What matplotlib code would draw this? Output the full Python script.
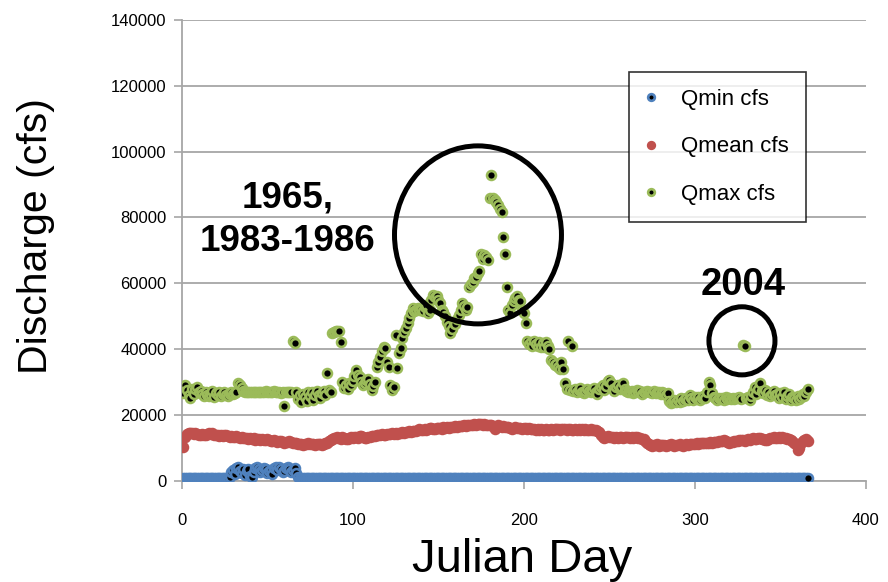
import matplotlib
matplotlib.use("Agg")
import matplotlib.pyplot as plt
from matplotlib.patches import Ellipse
import numpy as np

plt.rcParams['font.family'] = ['Liberation Sans', 'DejaVu Sans']

# Julian days 1..366
days = list(range(1, 367))

# Daily discharge values in thousands of cfs
qmin_k = (
    [0.8, 0.7, 0.8, 0.9, 0.8, 0.7, 0.8, 0.8, 0.9, 0.8,
     0.7, 0.8, 0.8, 0.9, 0.8, 0.8, 0.7, 0.8, 0.9, 0.8,
     0.8, 0.7, 0.8, 0.9, 0.8, 0.8, 0.9, 1.2, 2.5, 3.3,
     2.0, 3.8, 4.2, 3.0, 2.4, 3.6, 1.8, 2.8, 3.4, 1.5,
     1.1, 2.6, 3.9, 4.2, 3.6, 2.7, 3.1, 4.0, 3.5, 2.4,
     2.9, 3.3, 2.1, 3.7, 4.1, 3.2, 4.3, 3.6, 2.6, 3.0,
     3.9, 4.3, 3.4, 2.5, 3.1, 3.9, 2.3, 1.2, 0.9, 0.8]
    + [0.8, 0.7, 0.8, 0.9, 0.8, 0.8, 0.7, 0.8, 0.9, 0.8] * 29
    + [0.8, 0.7, 0.8, 0.9, 0.8, 0.8]
)

qmean_k = [
    10.2, 13.3, 14.2, 14.5, 14.6, 14.4, 14.3, 14.5, 14.2, 14.0,
    13.9, 14.1, 14.0, 13.8, 14.2, 14.5, 14.3, 14.4, 14.0, 13.8,
    13.9, 13.7, 13.8, 13.6, 13.9, 13.8, 13.5, 13.4, 13.6, 13.3,
    13.3, 13.5, 13.2, 13.0, 13.2, 12.9, 13.1, 13.0, 12.8, 13.0,
    12.7, 12.9, 12.5, 12.6, 12.8, 12.4, 12.6, 12.3, 12.5, 12.7,
    12.4, 12.2, 12.0, 12.3, 12.1, 11.9, 12.2, 12.0, 11.8, 11.5,
    11.7, 11.9, 12.1, 11.8, 11.6, 11.4, 11.6, 11.2, 11.0, 11.1,
    10.9, 11.1, 11.0, 11.3, 11.2, 11.0, 11.1, 10.9, 11.0, 11.2,
    11.0, 10.9, 11.2, 11.4, 11.6, 12.0, 12.3, 12.8, 13.0, 12.9,
    13.3, 13.0, 12.8, 13.2, 13.0, 12.6, 12.8, 13.1, 13.3, 13.0,
    13.2, 13.4, 13.1, 13.5, 13.6, 13.3, 13.0, 12.9, 13.2, 13.4,
    13.5, 13.7, 13.6, 13.9, 14.0, 13.8, 14.1, 14.0, 13.8, 14.2,
    14.3, 14.1, 14.4, 14.3, 14.5, 14.2, 14.4, 14.6, 14.8, 14.5,
    14.7, 14.9, 15.0, 14.8, 15.0, 15.2, 15.1, 15.4, 15.6, 15.3,
    15.5, 15.6, 15.4, 15.7, 15.9, 16.0, 15.8, 15.6, 15.9, 16.1,
    16.0, 15.8, 16.2, 16.1, 16.3, 16.0, 16.2, 16.4, 16.2, 16.5,
    16.4, 16.6, 16.5, 16.7, 16.8, 16.6, 16.9, 17.0, 16.8, 17.0,
    17.1, 16.9, 17.2, 17.3, 17.1, 17.0, 17.2, 16.9, 17.0, 16.8,
    16.9, 16.5, 15.8, 16.4, 16.8, 16.6, 16.4, 16.5, 16.3, 16.2,
    16.4, 16.0, 15.8, 16.1, 16.2, 16.0, 15.9, 16.1, 15.8, 15.9,
    16.0, 15.7, 15.9, 15.6, 15.8, 15.6, 15.4, 15.7, 15.5, 15.6,
    15.3, 15.5, 15.6, 15.4, 15.5, 15.7, 15.4, 15.6, 15.8, 15.6,
    15.5, 15.7, 15.6, 15.8, 15.5, 15.6, 15.7, 15.5, 15.4, 15.6,
    15.5, 15.6, 15.4, 15.7, 15.5, 15.6, 15.4, 15.5, 15.6, 15.3,
    15.4, 15.5, 15.2, 14.8, 14.0, 13.4, 13.0, 13.2, 13.5, 13.3,
    13.4, 13.2, 13.0, 13.3, 13.1, 13.3, 13.2, 13.0, 13.4, 13.2,
    13.3, 13.1, 13.2, 13.0, 13.3, 13.2, 13.0, 13.1, 12.8, 12.6,
    12.2, 11.6, 11.0, 10.8, 10.6, 10.9, 10.7, 11.0, 10.6, 10.8,
    10.9, 10.7, 10.6, 10.9, 10.8, 11.0, 10.7, 10.6, 10.9, 10.8,
    11.0, 10.8, 10.6, 10.9, 11.1, 10.8, 11.0, 11.2, 11.0, 11.1,
    11.3, 11.2, 11.4, 11.3, 11.5, 11.4, 11.6, 11.5, 11.7, 11.6,
    11.8, 11.7, 11.9, 12.0, 12.2, 12.0, 12.3, 12.1, 11.8, 11.6,
    11.7, 11.9, 12.1, 12.0, 12.2, 12.4, 12.3, 12.5, 12.2, 12.4,
    12.6, 12.5, 12.8, 13.0, 12.7, 12.6, 12.9, 13.1, 12.8, 12.6,
    12.4, 12.3, 12.6, 12.9, 13.0, 13.2, 12.9, 13.1, 13.3, 13.0,
    13.2, 12.9, 13.1, 12.8, 12.6, 12.3, 12.0, 11.6, 11.0, 9.2,
    10.0, 11.4, 12.2, 12.4, 12.6, 12.2,
]

qmax_k = [
    26.6, 29.0, 27.5, 26.0, 25.0, 27.8, 26.4, 28.0, 28.5, 26.9,
    27.4, 26.2, 25.6, 27.1, 26.0, 25.8, 26.0, 27.2, 25.4, 26.5,
    25.9, 26.8, 25.7, 26.3, 27.0, 26.1, 25.8, 26.4, 26.9, 26.2,
    26.5, 26.8, 29.8, 29.0, 28.3, 27.2, 26.9, 27.0, 26.8, 27.0,
    26.9, 27.1, 27.0, 26.8, 27.0, 27.1, 26.9, 27.0, 27.2, 27.0,
    26.9, 27.1, 27.0, 27.2, 26.9, 27.0, 27.1, 26.6, 27.0, 22.6,
    27.0, 26.9, 27.1, 27.0, 42.6, 41.8, 26.8, 24.8, 25.9, 23.9,
    26.4, 25.3, 24.2, 27.0, 25.6, 26.8, 24.6, 25.9, 27.3, 26.1,
    25.2, 26.7, 27.4, 26.0, 32.6, 27.5, 26.9, 45.0, 45.3, 45.5,
    45.6, 45.4, 42.0, 30.0, 28.3, 29.2, 28.0, 29.6, 29.0, 30.4,
    31.8, 33.6, 32.0, 31.5, 30.0, 29.2, 29.8, 30.5, 31.0, 29.4,
    27.6, 28.8, 30.0, 34.6, 36.0, 37.6, 39.5, 40.6, 40.2, 36.0,
    34.6, 29.0, 27.6, 28.4, 44.3, 34.3, 38.8, 40.4, 43.5, 45.2,
    46.4, 48.0, 49.5, 51.0, 52.4, 51.6, 52.0, 52.6, 51.8, 52.3,
    51.5, 52.8, 53.4, 51.0, 52.0, 55.0, 56.5, 55.8, 56.2, 55.0,
    54.0, 52.0, 51.3, 50.0, 48.3, 47.0, 45.0, 46.0, 48.0, 47.5,
    49.0, 50.5, 52.0, 54.0, 53.0, 52.0, 52.7, 59.0, 59.8, 60.5,
    61.5, 62.0, 63.0, 63.8, 69.0, 67.5, 68.5, 68.0, 67.0, 86.0,
    92.9, 85.8, 85.3, 84.6, 83.8, 82.5, 81.6, 74.0, 69.0, 59.0,
    52.0, 51.0, 53.5, 54.5, 55.5, 56.0, 55.0, 54.5, 52.0, 51.0,
    48.0, 42.5, 41.5, 42.0, 40.8, 42.6, 41.5, 41.0, 42.2, 40.6,
    41.8, 40.5, 42.0, 41.0, 40.0, 36.6, 36.0, 35.2, 35.5, 34.5,
    33.8, 36.0, 34.0, 29.8, 28.0, 42.5, 27.6, 41.0, 27.4, 28.0,
    26.8, 27.5, 28.2, 27.0, 26.6, 27.4, 28.0, 27.2, 26.9, 27.6,
    28.3, 27.0, 26.4, 27.8, 28.5, 29.0, 27.5, 28.8, 30.4, 30.7,
    29.8, 28.0, 27.4, 28.6, 29.2, 27.8, 28.4, 29.8, 28.0, 27.4,
    27.0, 26.8, 27.4, 26.5, 27.0, 27.6, 26.8, 27.2, 26.4, 27.0,
    26.9, 27.4, 26.8, 27.0, 26.6, 27.3, 26.5, 27.0, 26.8, 26.2,
    27.1, 26.6, 26.0, 26.7, 24.2, 23.7, 24.0, 24.6, 23.8, 24.4,
    24.0, 25.0, 24.3, 24.8, 25.2, 24.5, 26.0, 25.0, 24.6, 25.3,
    24.8, 25.5, 24.6, 25.0, 25.8, 25.2, 27.0, 30.0, 29.2, 26.5,
    25.5, 25.0, 24.6, 25.2, 24.8, 25.0, 24.6, 25.3, 24.9, 25.1,
    24.7, 25.0, 24.8, 25.2, 25.0, 25.5, 24.9, 41.3, 40.8, 25.0,
    25.4, 24.6, 25.8, 27.0, 28.5, 26.4, 27.8, 29.8, 27.2, 26.5,
    27.6, 26.0, 27.0, 25.8, 26.4, 27.2, 25.9, 26.2, 25.0, 26.6,
    25.4, 27.0, 24.8, 25.6, 26.2, 24.6, 25.5, 25.0, 24.5, 25.6,
    24.8, 25.3, 26.4, 25.8, 27.0, 28.0,
]

series_names = ["Qmin cfs", "Qmean cfs", "Qmax cfs"]
x_ticks = [0, 100, 200, 300, 400]
y_ticks = [0, 20000, 40000, 60000, 80000, 100000, 120000, 140000]

qmin = np.array(qmin_k) * 1000
qmean = np.array(qmean_k) * 1000
qmax = np.array(qmax_k) * 1000

BLUE = "#4F81BD"
RED = "#C0504D"
GREEN = "#9BBB59"
GRID = "#A6A6A6"

fig = plt.figure(figsize=(8.88, 5.82), dpi=100)
ax = fig.add_axes([0.2046, 0.1741, 0.7706, 0.7915])

ms = 6.4
mew = 1.9
ax.plot(days, qmin, linestyle="none", marker="o", markersize=ms,
        markerfacecolor="black", markeredgecolor=BLUE, markeredgewidth=mew,
        label=series_names[0], zorder=3)
ax.plot(days, qmean, linestyle="none", marker="o", markersize=ms,
        markerfacecolor=RED, markeredgecolor=RED, markeredgewidth=mew,
        label=series_names[1], zorder=3)
ax.plot(days, qmax, linestyle="none", marker="o", markersize=ms,
        markerfacecolor="black", markeredgecolor=GREEN, markeredgewidth=mew,
        label=series_names[2], zorder=3)

ax.set_xlim(0, 400)
ax.set_ylim(0, 140000)
ax.set_xticks(x_ticks)
ax.set_yticks(y_ticks)
ax.tick_params(axis="both", labelsize=12, colors="black", length=6,
               width=1.2, direction="out")
ax.tick_params(axis="x", colors=GRID, labelcolor="black", pad=17)
ax.tick_params(axis="y", colors=GRID, labelcolor="black", pad=5)
ax.grid(axis="y", color=GRID, linewidth=1.3)
ax.set_axisbelow(True)
for s in ["top", "right"]:
    ax.spines[s].set_visible(False)
for s in ["left", "bottom"]:
    ax.spines[s].set_color(GRID)
    ax.spines[s].set_linewidth(1.3)

ax.set_ylabel("Discharge (cfs)", fontsize=29.5)
ax.yaxis.set_label_coords(-0.185, 0.53)
ax.set_xlabel("Julian Day", fontsize=34)
ax.xaxis.set_label_coords(0.498, -0.125)

# annotations
ax.add_patch(Ellipse((173.2, 74700), 97.6, 54100, fill=False,
                     edgecolor="black", linewidth=3.6, zorder=4))
ax.add_patch(Ellipse((327.5, 42500), 38.6, 20700, fill=False,
                     edgecolor="black", linewidth=3.6, zorder=4))
ax.text(0.155, 0.566, "1965,\n1983-1986", transform=ax.transAxes,
        ha="center", va="center", fontsize=26.5, fontweight="bold",
        linespacing=1.3)
ax.text(0.8206, 0.4245, "2004", transform=ax.transAxes, ha="center",
        va="center", fontsize=27.5, fontweight="bold")

leg = ax.legend(loc="upper left", bbox_to_anchor=(0.654, 0.887),
                frameon=True, fancybox=False, fontsize=16, labelspacing=1.2,
                handlelength=0.5, handletextpad=1.1, borderpad=0.75,
                markerscale=0.75, borderaxespad=0)
leg.get_frame().set_edgecolor("black")
leg.get_frame().set_linewidth(1.2)

fig.savefig("out.png", dpi=100)
